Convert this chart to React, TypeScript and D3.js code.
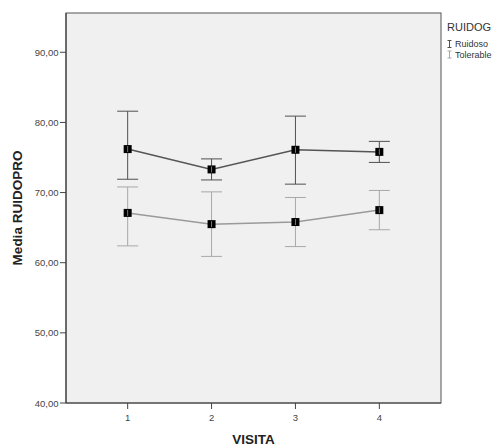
import React from "react";
import * as d3 from "d3";

const visits = [1, 2, 3, 4];
const ruidosoMean = [76.2, 73.3, 76.1, 75.8];
const ruidosoLow = [71.9, 71.8, 71.2, 74.3];
const ruidosoHigh = [81.6, 74.8, 80.9, 77.3];
const tolerableMean = [67.1, 65.5, 65.8, 67.5];
const tolerableLow = [62.4, 60.9, 62.3, 64.7];
const tolerableHigh = [70.8, 70.1, 69.3, 70.3];
const yTicks = [40, 50, 60, 70, 80, 90];
const seriesNames = ["Ruidoso", "Tolerable"];

const W = 498;
const H = 446;
const plot = { left: 66, right: 441, top: 13, bottom: 403 };

export default function App() {
  const x = d3.scaleLinear().domain([0.265, 4.735]).range([plot.left, plot.right]);
  const y = d3.scaleLinear().domain([40, 95.6]).range([plot.bottom, plot.top]);
  const fmt = (v: number) => v.toFixed(2).replace(".", ",");

  const series = [
    { name: seriesNames[0], mean: ruidosoMean, low: ruidosoLow, high: ruidosoHigh, line: "#555555", err: "#505050" },
    { name: seriesNames[1], mean: tolerableMean, low: tolerableLow, high: tolerableHigh, line: "#9a9a9a", err: "#a8a8a8" },
  ];

  const lineGen = d3
    .line<number>()
    .x((_, i) => x(visits[i]))
    .y((d) => y(d));

  const cap = 10.5;
  const ms = 8;

  return (
    <svg
      width={W}
      height={H}
      style={{ position: "absolute", left: 0, top: 0, fontFamily: "Arial, 'Liberation Sans', sans-serif" }}
    >
      <rect x={0} y={0} width={W} height={H} fill="#ffffff" />
      <rect
        x={plot.left}
        y={plot.top}
        width={plot.right - plot.left}
        height={plot.bottom - plot.top}
        fill="#f0f0f0"
        stroke="#555555"
        strokeWidth={1}
      />
      {yTicks.map((t) => (
        <g key={t}>
          <line x1={plot.left - 6} x2={plot.left} y1={y(t)} y2={y(t)} stroke="#444" strokeWidth={1} />
          <text x={plot.left - 7.5} y={y(t) + 3.5} textAnchor="end" fontSize={9.5} fill="#444">
            {fmt(t)}
          </text>
        </g>
      ))}
      {visits.map((v) => (
        <g key={v}>
          <line x1={x(v)} x2={x(v)} y1={plot.bottom} y2={plot.bottom + 6} stroke="#444" strokeWidth={1} />
          <text x={x(v)} y={plot.bottom + 17.5} textAnchor="middle" fontSize={9.5} fill="#444">
            {v}
          </text>
        </g>
      ))}
      <line x1={plot.left} x2={plot.right} y1={plot.bottom} y2={plot.bottom} stroke="#444" strokeWidth={1.2} />
      <line x1={plot.left} x2={plot.left} y1={plot.top} y2={plot.bottom} stroke="#444" strokeWidth={1.2} />

      {series.map((s) => (
        <g key={s.name}>
          <path d={lineGen(s.mean) || ""} fill="none" stroke={s.line} strokeWidth={1.5} />
          {visits.map((v, i) => (
            <g key={v}>
              <line x1={x(v)} x2={x(v)} y1={y(s.low[i])} y2={y(s.high[i])} stroke={s.err} strokeWidth={1} />
              <line x1={x(v) - cap} x2={x(v) + cap} y1={y(s.low[i])} y2={y(s.low[i])} stroke={s.err} strokeWidth={1} />
              <line x1={x(v) - cap} x2={x(v) + cap} y1={y(s.high[i])} y2={y(s.high[i])} stroke={s.err} strokeWidth={1} />
            </g>
          ))}
          {visits.map((v, i) => (
            <g key={"m" + v}>
              <rect x={x(v) - ms / 2} y={y(s.mean[i]) - ms / 2} width={ms} height={ms} fill="#000" />
              <line
                x1={x(v)}
                x2={x(v)}
                y1={y(s.mean[i]) - ms / 2 + 1}
                y2={y(s.mean[i]) + ms / 2 - 1}
                stroke="#7a7a7a"
                strokeWidth={1}
              />
            </g>
          ))}
        </g>
      ))}

      <text x={253.5} y={444} textAnchor="middle" fontSize={13.5} fontWeight="bold" fill="#222">
        VISITA
      </text>
      <text
        transform={`translate(22, ${(plot.top + plot.bottom) / 2}) rotate(-90)`}
        textAnchor="middle"
        fontSize={13.5}
        fontWeight="bold"
        fill="#222"
      >
        Media RUIDOPRO
      </text>

      <text x={447} y={31} fontSize={11} fill="#333">
        RUIDOG
      </text>
      {series.map((s, i) => {
        const cy = 44 + i * 10.5;
        return (
          <g key={"lg" + s.name}>
            <line x1={449.5} x2={449.5} y1={cy - 3.5} y2={cy + 3.5} stroke={s.err} strokeWidth={1} />
            <line x1={447.5} x2={451.5} y1={cy - 3.5} y2={cy - 3.5} stroke={s.err} strokeWidth={1} />
            <line x1={447.5} x2={451.5} y1={cy + 3.5} y2={cy + 3.5} stroke={s.err} strokeWidth={1} />
            <text x={455} y={cy + 3.3} fontSize={9} fill="#333">
              {s.name}
            </text>
          </g>
        );
      })}
    </svg>
  );
}
